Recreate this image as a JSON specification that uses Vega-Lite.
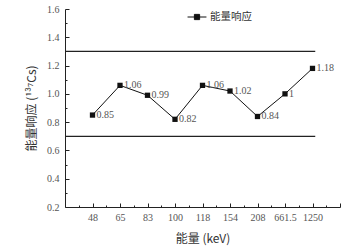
{
  "$schema": "https://vega.github.io/schema/vega-lite/v6.json",
  "autosize": "none",
  "width": 275,
  "height": 198,
  "padding": {"left": 65, "top": 9, "right": 21, "bottom": 40},
  "background": "white",
  "config": {
    "view": {"stroke": null},
    "axis": {"domainColor": "#222", "tickColor": "#222", "labelColor": "#555", "titleColor": "#333", "labelFont": "Liberation Serif", "labelFontSize": 10, "titleFont": "Noto Sans CJK SC", "titleFontSize": 12, "titleFontWeight": "normal", "grid": false, "labelOverlap": false}
  },
  "encoding": {
    "x": {"field": "idx", "type": "quantitative", "scale": {"domain": [0, 10], "nice": false},
      "axis": {"title": "能量 (keV)", "values": [0.5,1,1.5,2,2.5,3,3.5,4,4.5,5,5.5,6,6.5,7,7.5,8,8.5,9,9.5,10],
        "labelExpr": "['', '48', '65', '83', '100', '118', '154', '208', '661.5', '1250', ''][round(datum.value) == datum.value ? datum.value : 0]",
        "tickSize": {"condition": {"test": "round(datum.value) != datum.value", "value": -2}, "value": -4},
        "labelOverlap": false, "labelPadding": 9, "titlePadding": 9, "labelFlush": false}},
    "y": {"field": "r", "type": "quantitative", "scale": {"domain": [0.2, 1.6], "nice": false},
      "axis": {"title": "能量响应 (¹³⁷Cs)", "values": [0.2,0.3,0.4,0.5,0.6,0.7,0.8,0.9,1.0,1.1,1.2,1.3,1.4,1.5,1.6],
        "labelExpr": "round(datum.value*10) % 2 == 0 ? format(datum.value, '.1f') : ''",
        "tickSize": {"condition": {"test": "round(datum.value*10) % 2 != 0", "value": -2}, "value": -4},
        "labelOverlap": false, "labelPadding": 10, "titlePadding": 8, "labelFlush": false}}
  },
  "layer": [
    {
      "data": {"values": [{"idx": 0, "idx2": 9.1, "r": 1.3}, {"idx": 0, "idx2": 9.1, "r": 0.7}]},
      "mark": {"type": "rule", "color": "#222", "strokeWidth": 1.2},
      "encoding": {
        "x2": {"field": "idx2"}
      }
    },
    {
      "data": {"values": [
        {"idx": 1, "energy": "48", "r": 0.85, "label": "0.85", "series": "能量响应"},
        {"idx": 2, "energy": "65", "r": 1.06, "label": "1.06", "series": "能量响应"},
        {"idx": 3, "energy": "83", "r": 0.99, "label": "0.99", "series": "能量响应"},
        {"idx": 4, "energy": "100", "r": 0.82, "label": "0.82", "series": "能量响应"},
        {"idx": 5, "energy": "118", "r": 1.06, "label": "1.06", "series": "能量响应"},
        {"idx": 6, "energy": "154", "r": 1.02, "label": "1.02", "series": "能量响应"},
        {"idx": 7, "energy": "208", "r": 0.84, "label": "0.84", "series": "能量响应"},
        {"idx": 8, "energy": "661.5", "r": 1.0, "label": "1", "series": "能量响应"},
        {"idx": 9, "energy": "1250", "r": 1.18, "label": "1.18", "series": "能量响应"}
      ]},
      "layer": [
        {
          "mark": {"type": "line", "strokeWidth": 1, "point": {"shape": "square", "filled": true, "size": 28}},
          "encoding": {
            "color": {"field": "series", "type": "nominal", "scale": {"range": ["#111"]},
              "legend": {"title": null, "orient": "none", "legendX": 126, "legendY": 2, "symbolType": "M-1.8,0H1.8M-0.5,-0.5H0.5V0.5H-0.5Z", "symbolSize": 110, "symbolStrokeWidth": 1, "symbolFillColor": "#111", "symbolStrokeColor": "#111", "labelFont": "Noto Sans CJK SC", "labelFontSize": 10.5, "labelColor": "#333", "labelOffset": 7}}
          }
        },
        {
          "mark": {"type": "text", "align": "left", "baseline": "middle", "dx": 4, "font": "Liberation Serif", "fontSize": 10, "color": "#555"},
          "encoding": {
            "text": {"field": "label"}
          }
        }
      ]
    }
  ]
}
